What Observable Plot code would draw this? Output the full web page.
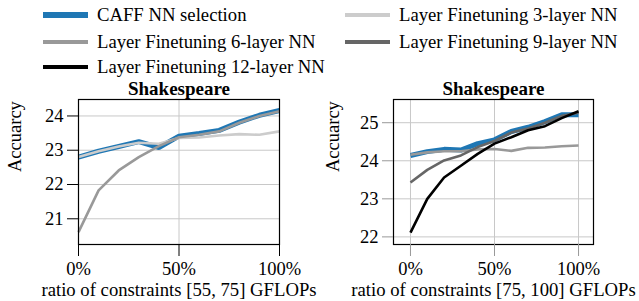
<!DOCTYPE html>
<html><head><meta charset="utf-8">
<script src="https://cdn.jsdelivr.net/npm/d3@7"></script>
<script src="https://cdn.jsdelivr.net/npm/@observablehq/plot@0.6"></script>
<style>
body{margin:0;background:#fff;font-family:"Liberation Serif","Times New Roman",Times,serif;}
#wrap{position:relative;width:639px;height:301px;overflow:hidden;background:#fff;}
.item{position:absolute;height:20px;}
.sw{position:absolute;left:0;width:45px;}
.lt{position:absolute;left:54px;top:0;font-size:18.7px;line-height:20px;white-space:nowrap;color:#000;}
.panel{position:absolute;top:75px;}
</style></head><body><div id="wrap"></div>
<script>
// ---- data ----
const ratios = [0, 0.1, 0.2, 0.3, 0.4, 0.5, 0.6, 0.7, 0.8, 0.9, 1.0];
const xTicks = [0, 0.5, 1];
const seriesNames = ["CAFF NN selection", "Layer Finetuning 3-layer NN", "Layer Finetuning 6-layer NN", "Layer Finetuning 9-layer NN", "Layer Finetuning 12-layer NN"];
const seriesColors = ["#1f77b4", "#cccccc", "#999999", "#666666", "#000000"];

const leftTitle = "Shakespeare";
const leftXLabel = "ratio of constraints [55, 75] GFLOPs";
const leftYTicks = [21, 22, 23, 24];
const leftCaff = [22.80, 22.97, 23.11, 23.25, 23.08, 23.41, 23.49, 23.58, 23.82, 24.02, 24.16];
const leftL3   = [22.80, 22.97, 23.11, 23.22, 23.19, 23.36, 23.37, 23.43, 23.47, 23.45, 23.55];
const leftL6   = [20.61, 21.83, 22.41, 22.80, 23.12, 23.38, 23.45, 23.55, 23.80, 24.00, 24.14];

const rightTitle = "Shakespeare";
const rightXLabel = "ratio of constraints [75, 100] GFLOPs";
const rightYTicks = [22, 23, 24, 25];
const rightCaff = [24.14, 24.24, 24.30, 24.28, 24.45, 24.55, 24.77, 24.88, 25.03, 25.21, 25.21];
const rightL6   = [24.16, 24.22, 24.25, 24.25, 24.30, 24.31, 24.26, 24.34, 24.35, 24.38, 24.40];
const rightL9   = [23.43, 23.76, 24.01, 24.14, 24.36, 24.52, 24.74, 24.85, 25.00, 25.18, 25.26];
const rightL12  = [22.11, 23.00, 23.56, 23.87, 24.18, 24.45, 24.62, 24.80, 24.91, 25.12, 25.30];

const yLabel = "Accuarcy";
const FONT = '"Liberation Serif","Times New Roman",Times,serif';

// ---- build ----
const wrap = document.getElementById("wrap");
const legendLayout = [
  {i: 0, x: 43, y: 5}, {i: 1, x: 345, y: 5},
  {i: 2, x: 43, y: 32}, {i: 3, x: 345, y: 32},
  {i: 4, x: 43, y: 57}
];
for (const L of legendLayout) {
  const it = document.createElement("div");
  it.className = "item";
  it.style.left = L.x + "px"; it.style.top = L.y + "px";
  const sw = document.createElement("div");
  sw.className = "sw";
  const h = L.i === 0 ? 6 : 3.5;
  sw.style.height = h + "px"; sw.style.top = (10 - h / 2) + "px";
  sw.style.background = seriesColors[L.i];
  const t = document.createElement("div");
  t.className = "lt"; t.textContent = seriesNames[L.i];
  t.style.fontFamily = FONT;
  it.appendChild(sw); it.appendChild(t);
  wrap.appendChild(it);
}

function toRows(vals, s) { return vals.map((v, k) => ({x: ratios[k], y: v, s})); }

function panel({series, yDomain, yTicks, xDomain, marginLeft, marginRight, width, title, xlabel, tickColor, labelDx}) {
  const marks = [
    Plot.gridX(xTicks, {stroke: "#c8c8c8", strokeOpacity: 1}),
    Plot.gridY(yTicks, {stroke: "#c8c8c8", strokeOpacity: 1}),
  ];
  for (const [vals, idx] of series) {
    marks.push(Plot.line(toRows(vals, idx), {x: "x", y: "y", stroke: seriesColors[idx], strokeWidth: idx === 0 ? 5 : 2.6, strokeLinejoin: "miter", strokeLinecap: "butt"}));
  }
  marks.push(
    Plot.frame({stroke: "black", strokeWidth: 1.2}),
    Plot.axisX(xTicks, {tickFormat: d => `${Math.round(d * 100)}%`, tickSize: 12, tickPadding: 5, label: null, stroke: tickColor, fill: "black", fontSize: 18.5}),
    Plot.axisY(yTicks, {tickSize: 11, tickPadding: 4, label: null, stroke: tickColor, fill: "black", fontSize: 18.5}),
    Plot.text([title], {frameAnchor: "top", dy: -11, lineAnchor: "middle", fontWeight: "bold", fontSize: 19, fill: "black"}),
    Plot.text([xlabel], {frameAnchor: "bottom", dy: 46, lineAnchor: "middle", fontSize: 18.7, fill: "black"}),
    Plot.text([yLabel], {frameAnchor: "left", dx: labelDx, rotate: -90, lineAnchor: "middle", fontSize: 18.5, fill: "black"})
  );
  return Plot.plot({
    width, height: 226, marginLeft, marginRight, marginTop: 24, marginBottom: 57,
    style: {fontFamily: FONT, fontSize: "18px", background: "transparent", color: "black", overflow: "visible"},
    x: {domain: xDomain},
    y: {domain: yDomain},
    marks
  });
}

const left = panel({
  series: [[leftCaff, 0], [leftL3, 1], [leftL6, 2]],
  yDomain: [20.25, 24.48], yTicks: leftYTicks, xDomain: [0, 1],
  marginLeft: 78, marginRight: 41, width: 320,
  title: leftTitle, xlabel: leftXLabel, tickColor: "black", labelDx: -63
});
left.classList.add("panel"); left.style.left = "0px";
wrap.appendChild(left);

const right = panel({
  series: [[rightCaff, 0], [rightL6, 2], [rightL9, 3], [rightL12, 4]],
  yDomain: [21.8, 25.61], yTicks: rightYTicks, xDomain: [-0.101, 1.089],
  marginLeft: 73, marginRight: 46, width: 319,
  title: rightTitle, xlabel: rightXLabel, tickColor: "#999", labelDx: -60
});
right.classList.add("panel"); right.style.left = "320px";
wrap.appendChild(right);
</script>
</body></html>
